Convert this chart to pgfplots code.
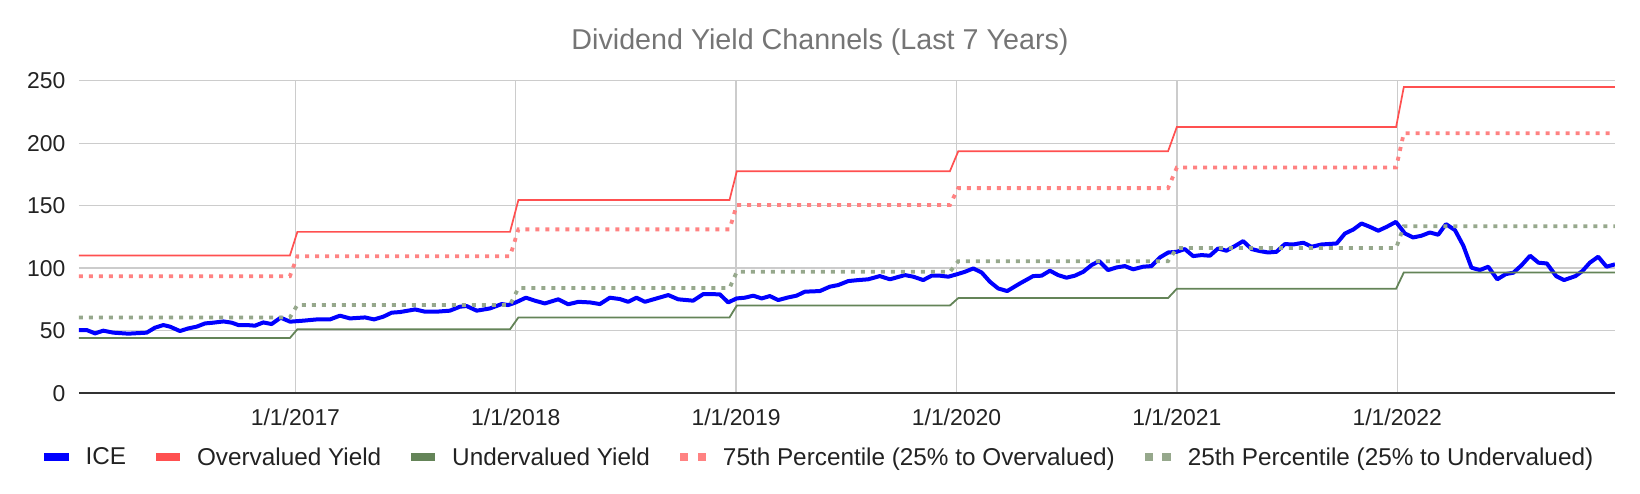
\documentclass[border=0pt]{standalone}
\usepackage{pgfplots}
\pgfplotsset{compat=1.18}
\usepackage{fontspec}
\setmainfont{Liberation Sans}
\definecolor{iceblue}{RGB}{0,0,255}
\definecolor{overred}{RGB}{255,80,80}
\definecolor{undergreen}{RGB}{100,132,88}
\definecolor{pctpink}{RGB}{255,130,130}
\definecolor{pctgreen}{RGB}{150,168,140}
\definecolor{gridgrey}{RGB}{204,204,204}
\definecolor{titlegrey}{RGB}{117,117,117}
\definecolor{textdark}{RGB}{34,34,34}
\begin{document}
\begin{tikzpicture}
\path[use as bounding box] (-79bp,-101bp) rectangle (1561bp,393bp);
\begin{axis}[
  at={(0,0)}, anchor=south west,
  scale only axis, width=1536bp, height=312.3bp,
  xmin=2016.018, xmax=2022.988, ymin=0, ymax=250,
  xtick={2017,2018,2019,2020,2021,2022},
  xticklabels={1/1/2017,1/1/2018,1/1/2019,1/1/2020,1/1/2021,1/1/2022},
  ytick={50,100,150,200,250},
  extra y ticks={0},
  extra y tick labels={0},
  extra y tick style={grid style={color=black!80, line width=2bp}},
  /pgf/number format/assume math mode=true,
  axis line style={draw=none},
  major tick length=0pt,
  xmajorgrids, ymajorgrids,
  grid style={gridgrey, line width=1.3bp},
  ticklabel style={font=\fontsize{23}{27}\selectfont, text=textdark, inner sep=0pt},
  xticklabel style={anchor=base, yshift=-32bp},
  yticklabel style={anchor=base east, xshift=-13.5bp, yshift=-8bp},
  legend columns=5,
  legend style={at={(-0.02246,-0.2049)}, anchor=west, draw=none, fill=none,
    inner sep=0pt, outer sep=0pt,
    font=\fontsize{24.4}{29}\selectfont, text=textdark,
    /tikz/every odd column/.style={column sep=17bp},
    /tikz/every even column/.style={column sep=30bp},
    nodes={inner sep=0pt}},
  legend cell align=left,
]
\addplot[iceblue, line width=4bp, line join=round,
  legend image code/.code={\path[draw=none, fill=iceblue, solid, line width=0pt] (0bp,-3.7bp) rectangle (24bp,3.7bp);}]
coordinates {
(2016.018,50.4) (2016.053,50.4) (2016.091,47.7) (2016.128,49.9) (2016.174,48.3)
(2016.242,47.5) (2016.325,48.3) (2016.363,52.3) (2016.401,54.4) (2016.431,53.1)
(2016.476,49.6) (2016.514,51.7) (2016.552,53.1) (2016.590,55.7) (2016.628,56.3)
(2016.673,57.3) (2016.711,56.3) (2016.741,54.4) (2016.779,54.4) (2016.817,53.9)
(2016.854,56.5) (2016.892,55.2) (2016.933,60.3) (2016.976,57.1) (2017.036,57.9)
(2017.097,58.9) (2017.157,58.9) (2017.202,61.9) (2017.248,59.7) (2017.316,60.5)
(2017.357,58.9) (2017.399,61.1) (2017.437,64.3) (2017.475,64.8) (2017.543,66.9)
(2017.588,65.1) (2017.641,65.1) (2017.701,65.9) (2017.747,69.1) (2017.777,69.6)
(2017.823,65.9) (2017.883,67.7) (2017.936,71.2) (2017.966,70.4) (2018.000,72.5)
(2018.046,76.3) (2018.087,73.9) (2018.132,71.7) (2018.193,75.0) (2018.238,71.0)
(2018.284,73.0) (2018.337,72.5) (2018.382,71.2) (2018.427,76.3) (2018.473,75.2)
(2018.510,73.0) (2018.548,76.3) (2018.586,73.0) (2018.639,75.7) (2018.692,78.4)
(2018.737,75.0) (2018.805,73.9) (2018.851,79.2) (2018.926,79.0) (2018.964,72.5)
(2019.002,75.7) (2019.040,76.3) (2019.078,77.9) (2019.116,75.7) (2019.153,77.6)
(2019.191,74.4) (2019.236,76.5) (2019.274,77.9) (2019.312,81.1) (2019.380,81.6)
(2019.425,85.1) (2019.463,86.4) (2019.509,89.6) (2019.554,90.4) (2019.599,91.0)
(2019.652,93.6) (2019.698,91.0) (2019.766,94.4) (2019.804,93.1) (2019.849,90.4)
(2019.887,93.9) (2019.925,93.9) (2019.963,93.1) (2020.001,95.0) (2020.038,97.0)
(2020.076,99.7) (2020.114,96.5) (2020.152,89.0) (2020.189,83.7) (2020.230,81.6)
(2020.288,87.7) (2020.348,93.6) (2020.386,93.9) (2020.424,97.9) (2020.461,94.4)
(2020.499,92.3) (2020.537,93.9) (2020.575,97.0) (2020.613,102.4) (2020.647,105.6)
(2020.688,98.4) (2020.726,100.5) (2020.764,101.6) (2020.802,99.0) (2020.847,101.1)
(2020.885,101.6) (2020.923,108.5) (2020.961,112.5) (2020.999,113.0) (2021.036,115.2)
(2021.074,109.6) (2021.112,110.4) (2021.150,109.9) (2021.187,115.7) (2021.225,113.9)
(2021.263,117.6) (2021.301,121.6) (2021.339,115.2) (2021.377,113.6) (2021.414,112.5)
(2021.452,113.0) (2021.490,119.2) (2021.528,118.9) (2021.574,120.3) (2021.612,117.1)
(2021.657,118.9) (2021.725,119.7) (2021.763,127.7) (2021.801,130.9) (2021.838,135.7)
(2021.876,133.0) (2021.914,129.9) (2021.952,133.0) (2021.994,137.0) (2022.035,127.7)
(2022.072,124.5) (2022.110,125.9) (2022.148,128.5) (2022.186,126.7) (2022.221,135.2)
(2022.262,130.4) (2022.300,117.9) (2022.337,100.3) (2022.375,98.4) (2022.413,101.1)
(2022.454,91.0) (2022.493,95.2) (2022.527,96.3) (2022.565,102.4) (2022.603,109.9)
(2022.641,104.3) (2022.679,103.7) (2022.721,93.6) (2022.757,90.4) (2022.809,93.6)
(2022.840,97.6) (2022.874,104.3) (2022.912,109.1) (2022.950,101.1) (2022.988,103.0)
};
\addplot[overred, line width=1.7bp,
  legend image code/.code={\path[draw=none, fill=overred, solid, line width=0pt] (0bp,-3.7bp) rectangle (24bp,3.7bp);}]
coordinates {
(2016.018,110) (2016.975,110) (2017.009,129) (2017.974,129) (2018.012,154.5)
(2018.970,154.5) (2019.003,177.5) (2019.970,177.5) (2020.008,193.5) (2020.960,193.5)
(2021.000,213) (2021.995,213) (2022.030,245) (2022.988,245)
};
\addplot[undergreen, line width=1.8bp,
  legend image code/.code={\path[draw=none, fill=undergreen, solid, line width=0pt] (0bp,-3.7bp) rectangle (24bp,3.7bp);}]
coordinates {
(2016.018,44) (2016.975,44) (2017.009,51) (2017.974,51) (2018.012,60.5)
(2018.970,60.5) (2019.003,70) (2019.970,70) (2020.008,76) (2020.960,76)
(2021.000,83.5) (2021.995,83.5) (2022.030,96.5) (2022.988,96.5)
};
\addplot[pctpink, line width=3.8bp, dash pattern=on 4bp off 6bp,
  legend image code/.code={\path[draw=none, fill=pctpink, solid, line width=0pt] (0bp,-3.6bp) rectangle (8.4bp,3.6bp);
    \path[draw=none, fill=pctpink, solid, line width=0pt] (17.6bp,-3.6bp) rectangle (26bp,3.6bp);}]
coordinates {
(2016.018,93.5) (2016.975,93.5) (2017.009,109.5) (2017.974,109.5) (2018.012,131)
(2018.970,131) (2019.003,150.5) (2019.970,150.5) (2020.008,164) (2020.960,164)
(2021.000,180.5) (2021.995,180.5) (2022.030,208) (2022.988,208)
};
\addplot[pctgreen, line width=3.8bp, dash pattern=on 4bp off 6bp,
  legend image code/.code={\path[draw=none, fill=pctgreen, solid, line width=0pt] (0bp,-3.6bp) rectangle (8.4bp,3.6bp);
    \path[draw=none, fill=pctgreen, solid, line width=0pt] (17.6bp,-3.6bp) rectangle (26bp,3.6bp);}]
coordinates {
(2016.018,60.5) (2016.975,60.5) (2017.009,70.5) (2017.974,70.5) (2018.012,84)
(2018.970,84) (2019.003,97) (2019.970,97) (2020.008,105.5) (2020.960,105.5)
(2021.000,116) (2021.995,116) (2022.030,133.5) (2022.988,133.5)
};
\legend{ICE, Overvalued Yield, Undervalued Yield, 75th Percentile (25\% to Overvalued), 25th Percentile (25\% to Undervalued)}
\end{axis}
\node[text=titlegrey, font=\fontsize{28.8}{34}\selectfont, inner sep=0pt] at (741bp,351bp) {Dividend Yield Channels (Last 7 Years)};
\end{tikzpicture}
\end{document}
